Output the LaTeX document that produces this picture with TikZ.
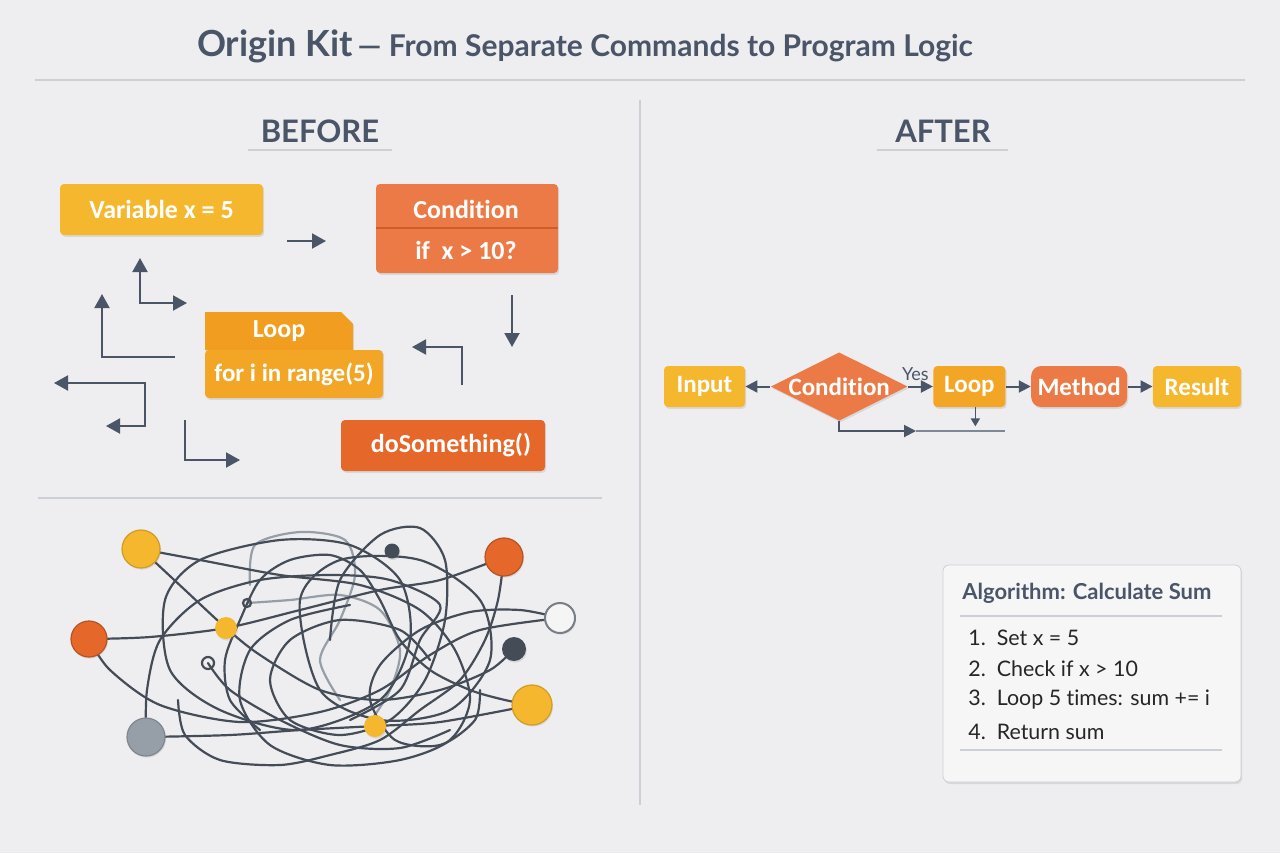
\documentclass[tikz,border=0pt]{standalone}
\usepackage{fontspec}
\setmainfont[Ligatures=NoCommon]{Lato}
\newfontfamily\blockfont[Ligatures=NoCommon]{Carlito}
\usepackage{tikz}
\usetikzlibrary{arrows.meta,positioning,shapes.geometric,shapes.misc,shadows,calc}
\definecolor{okbg}{RGB}{238,238,240}
\definecolor{okink}{RGB}{74,85,104}
\definecolor{okrule}{RGB}{204,207,213}
\definecolor{okyel}{RGB}{245,183,45}
\definecolor{okamb}{RGB}{243,166,38}
\definecolor{oktab}{RGB}{240,157,32}
\definecolor{okorg}{RGB}{236,122,70}
\definecolor{okdeep}{RGB}{229,104,42}
\definecolor{okgrey}{RGB}{150,158,168}
\definecolor{okwire}{RGB}{68,76,88}
\definecolor{okcard}{RGB}{246,246,247}
\tikzset{
  okbox/.style={
    rounded corners=2pt, text=white, align=center, inner sep=0pt,
    font=\blockfont\bfseries\fontsize{13}{15}\selectfont,
    drop shadow={opacity=0.2, shadow xshift=0.6pt, shadow yshift=-0.9pt}
  },
  yel/.style={okbox, fill=okyel},
  amb/.style={okbox, fill=okamb},
  org/.style={okbox, fill=okorg},
  deep/.style={okbox, fill=okdeep},
  lbl/.style={text=white, font=\blockfont\bfseries\fontsize{13}{15}\selectfont, inner sep=0pt},
  flow/.style={okbox, minimum height=20.5pt, font=\blockfont\bfseries\fontsize{12.5}{14}\selectfont},
  decision/.style={flow, diamond, aspect=2, rounded corners=0pt, fill=okorg,
    minimum width=68pt, minimum height=34pt},
  arr/.style={-{Triangle[length=7pt,width=7.5pt]}, draw=okink, line width=1pt},
  darr/.style={{Triangle[length=7pt,width=7.5pt]}-{Triangle[length=7pt,width=7.5pt]}, draw=okink, line width=1pt},
  farr/.style={-{Triangle[length=6pt,width=6pt]}, draw=okink, line width=1pt},
  sarr/.style={-{Triangle[length=4pt,width=4.5pt]}, draw=okink, line width=0.8pt},
  wire/.style={draw=okwire, line width=1.1pt, line cap=round},
  fwire/.style={draw=okgrey, line width=1.1pt, line cap=round},
  dot/.style={circle, inner sep=0pt, line width=0.6pt,
    drop shadow={opacity=0.2, shadow xshift=0.5pt, shadow yshift=-0.8pt}},
  rule/.style={draw=okrule, line width=0.8pt},
  head/.style={text=okink, font=\bfseries\fontsize{15.5}{18}\selectfont},
  item/.style={anchor=west, text=black!85, font=\fontsize{10.7}{12}\selectfont, inner sep=0pt}
}

\begin{document}
\begin{tikzpicture}[x=0.5pt, y=-0.5pt, node distance=12.5pt]
  \fill[okbg] (0,0) rectangle (1280,853);
  \useasboundingbox (0,0) rectangle (1280,853);

  % title and frame
  \node[text=okink, font=\bfseries] (title) at (585,46)
    {{\fontsize{18}{21}\selectfont Origin Kit} {\fontsize{15}{18}\selectfont --- From Separate Commands to Program Logic}};
  \draw[rule] (35,80) -- (1245,80);
  \draw[rule] (640,100) -- (640,805);
  \node[head] (before) at (320,131) {BEFORE};
  \node[head] (after) at (943,131) {AFTER};
  \draw[rule] (248,150) -- (392,150);
  \draw[rule] (877,150) -- (1008,150);

  % before: loose blocks
  \node[yel, minimum width=101.5pt, minimum height=25.5pt] (var) at (161.5,209.5) {Variable x = 5};
  \node[org, minimum width=91pt, minimum height=44.5pt] (cond) at (467,228.5) {};
  \draw[draw=okdeep!90!black, line width=0.6pt] (cond.west |- 0,228) -- (cond.east |- 0,228);
  \node[lbl] at (466,209) {Condition};
  \node[lbl] at (466,250) {if\ \ x > 10?};
  \node[okbox, fill=oktab, minimum width=74pt, minimum height=19pt,
    chamfered rectangle, chamfered rectangle corners=north east, chamfered rectangle xsep=2.5pt, rounded corners=0pt]
    (looptab) at (279,331) {Loop};
  \node[amb, minimum width=89pt, minimum height=24pt, font=\blockfont\bfseries\fontsize{12.5}{14}\selectfont]
    (loopbody) at (294,374) {for i in range(5)};
  \node[deep, minimum width=102pt, minimum height=25.5pt] (act) at (443,445.5) {\hspace{8pt}doSomething()};

  \draw[arr] (287,241) -- (326,241);
  \draw[darr] (140,258) -- (140,303) -- (187,303);
  \draw[arr] (175,357) -- (102,357) -- (102,294);
  \draw[darr] (54,383) -- (145,383) -- (145,426) -- (106,426);
  \draw[arr] (185,420) -- (185,460) -- (240,460);
  \draw[arr] (512,295) -- (512,347);
  \draw[arr] (462,385) -- (462,347) -- (412,347);
  \draw[rule] (38,498) -- (602,498);

  % before: tangle
  \coordinate (ty1) at (141,549);
  \coordinate (tr1) at (504,557);
  \coordinate (to1) at (89,639);
  \coordinate (tw) at (560,618);
  \coordinate (tk) at (514,649);
  \coordinate (ty2) at (532,705);
  \coordinate (tg) at (146,737);
  \coordinate (ts1) at (226,628);
  \coordinate (ts2) at (375,726);
  \coordinate (tk2) at (392,551);
  \draw[fwire] plot[smooth] coordinates {(247,603) (290,600) (340,595) (380,610) (400,650) (390,690) (370,722)};
  \draw[fwire] plot[smooth] coordinates {(250,585) (255,545) (300,532) (345,540) (355,575) (340,620) (320,660) (340,700)};
  \draw[wire] plot[smooth] coordinates {(ty1) (200,560) (280,575) (360,585) (420,610) (455,650) (470,700) (450,740) (400,760) (330,765) (270,745) (240,700) (250,650) (290,620) (350,605)};
  \draw[wire] plot[smooth] coordinates {(ty1) (185,590) (ts1) (260,655) (320,690) (380,700) (440,690) (490,670) (tk)};
  \draw[wire] plot[smooth] coordinates {(to1) (150,637) (ts1) (300,610) (380,590) (440,580) (tr1)};
  \draw[wire] plot[smooth] coordinates {(to1) (110,670) (160,705) (240,722) (320,712) (380,690) (430,655) (480,630) (tw)};
  \draw[wire] plot[smooth] coordinates {(tg) (230,735) (300,730) (ts2) (440,722) (ty2)};
  \draw[wire] plot[smooth] coordinates {(tg) (147,690) (160,640) (200,600) (260,580) (330,575) (390,580) (440,605) (420,640) (400,690) (350,720)};
  \draw[wire] plot[smooth cycle] coordinates {(165,600) (200,560) (280,540) (350,545) (400,580) (410,640) (380,700) (300,730) (220,710) (170,670)};
  \draw[wire] plot[smooth cycle] coordinates {(300,600) (340,560) (420,560) (480,600) (490,660) (450,710) (380,720) (320,690)};
  \draw[wire] plot[smooth] coordinates {(330,640) (340,580) (380,535) (420,528) (445,560) (445,620) (425,680) (390,720) (340,735) (290,720) (270,680) (290,640) (340,620) (400,630) (430,660)};
  \draw[wire] plot[smooth] coordinates {(tr1) (498,600) (485,640) (460,680) (420,710) (380,740) (330,755) (280,765) (220,760) (185,735) (178,700)};
  \draw[wire] plot[smooth] coordinates {(tw) (520,610) (470,612) (420,630) (380,665) (370,700) (395,740) (440,745) (475,720) (480,690)};
  \draw[wire] plot[smooth] coordinates {(ty2) (505,700) (470,690) (430,670) (400,640) (380,600) (360,570) (330,555) (290,560) (260,580) (240,620) (225,660) (230,700) (260,730)};
  \draw[wire] plot[smooth] coordinates {(208,663) (230,690) (280,720) (340,745) (400,748) (450,730)};
  \draw[wire] (247,603) circle (4);
  \draw[wire] (208,663) circle (6);
  \node[dot, fill=okyel, draw=okyel!85!black, minimum size=19pt] (d1) at (ty1) {};
  \node[dot, fill=okdeep, draw=okdeep!80!black, minimum size=19pt] (d2) at (tr1) {};
  \node[dot, fill=okdeep, draw=okdeep!80!black, minimum size=18pt] (d3) at (to1) {};
  \node[dot, fill=white!96!black, draw=okgrey!80!black, line width=1pt, minimum size=15pt] (d4) at (tw) {};
  \node[dot, fill=okwire, minimum size=12pt] (d5) at (tk) {};
  \node[dot, fill=okyel, draw=okyel!85!black, minimum size=20pt] (d6) at (ty2) {};
  \node[dot, fill=okgrey, draw=okgrey!85!black, minimum size=19pt] (d7) at (tg) {};
  \node[dot, fill=okyel, minimum size=11pt] (d8) at (ts1) {};
  \node[dot, fill=okyel, minimum size=11pt] (d9) at (ts2) {};
  \node[dot, fill=okwire, minimum size=7.5pt] (d10) at (tk2) {};

  % after: program flow
  \node[flow, fill=okyel, minimum width=40.5pt] (input) at (704.5,386.5) {Input};
  \node[decision, right=of input] (check) {Condition};
  \node[flow, fill=okamb, minimum width=36pt, right=of check] (loop) {Loop};
  \node[flow, fill=okorg, minimum width=48pt, rounded corners=5pt, right=of loop] (method) {Method};
  \node[flow, fill=okyel, minimum width=44pt, right=of method] (result) {Result};
  \draw[farr] (check) -- (input);
  \draw[farr] (check) -- node[above=-1pt, pos=0.3, text=okink, font=\fontsize{9}{10}\selectfont] (yes) {Yes} (loop);
  \draw[farr] (loop) -- (method);
  \draw[farr] (method) -- (result);
  \coordinate (back) at (916,431);
  \draw[farr] (check.south) |- (back);
  \draw[draw=okink!70, line width=0.8pt] (back) -- (1005,431);
  \draw[sarr] ($(loop.south)+(6,0)$) -- ($(loop.south)+(6,19)$);

  % after: algorithm card
  \node[draw=okrule, fill=okcard, rounded corners=3pt, minimum width=149pt, minimum height=108.5pt,
    drop shadow={opacity=0.2, shadow xshift=0.6pt, shadow yshift=-1pt}] (card) at (1092,673.5) {};
  \node[anchor=west, inner sep=0pt, text=okink, font=\bfseries\fontsize{11}{13}\selectfont] (algo) at (962,593) {Algorithm: Calculate Sum};
  \draw[rule] (960,616) -- (1222,616);
  \node[item] (s1) at (968,638) {1.\ \ Set x = 5};
  \node[item] (s2) at (968,669) {2.\ \ Check if x > 10};
  \node[item] (s3) at (968,700) {3.\ \ Loop 5 times: sum += i};
  \node[item] (s4) at (968,732) {4.\ \ Return sum};
  \draw[rule] (960,750) -- (1222,750);
\end{tikzpicture}
\end{document}
